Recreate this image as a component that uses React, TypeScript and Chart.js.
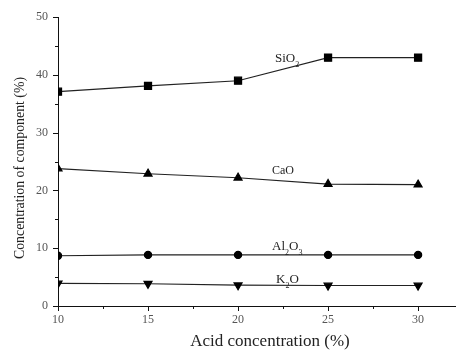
import React, { useEffect, useRef } from "react";
import { Chart, registerables } from "chart.js";

Chart.register(...registerables);

const acidConc = [10, 15, 20, 25, 30];
const sio2 = [37.1, 38.1, 39.0, 43.0, 43.0];
const cao = [23.8, 22.9, 22.2, 21.1, 21.0];
const al2o3 = [8.7, 8.85, 8.85, 8.85, 8.85];
const k2o = [3.9, 3.85, 3.6, 3.55, 3.55];
const xTicks = [10, 15, 20, 25, 30];
const yTicks = [0, 10, 20, 30, 40, 50];

const SERIF = "'Liberation Serif', 'DejaVu Serif', serif";

const annotations = [
  { base: "SiO", sub: "2", tail: "", x: 275, y: 59, size: 13 },
  { base: "CaO", sub: "", tail: "", x: 272, y: 171, size: 12 },
  { base: "Al", sub: "2", tail: "O", sub2: "3", x: 272, y: 247, size: 13 },
  { base: "K", sub: "2", tail: "O", x: 276, y: 280, size: 13 },
];

const customPlugin = {
  id: "custom",
  afterDraw(chart: any) {
    const ctx = chart.ctx;
    const xs = chart.scales.x;
    const ys = chart.scales.y;
    ctx.save();
    ctx.strokeStyle = "#111";
    ctx.lineWidth = 1;
    for (let v = 0; v <= 50; v += 5) {
      const py = Math.round(ys.getPixelForValue(v)) + 0.5;
      const len = v % 10 === 0 ? 5 : 3;
      ctx.beginPath();
      ctx.moveTo(xs.left, py);
      ctx.lineTo(xs.left - len, py);
      ctx.stroke();
    }
    for (let v = 10; v <= 30; v += 2.5) {
      const px = Math.round(xs.getPixelForValue(v)) + 0.5;
      const len = v % 5 === 0 ? 5 : 3;
      ctx.beginPath();
      ctx.moveTo(px, ys.bottom);
      ctx.lineTo(px, ys.bottom + len);
      ctx.stroke();
    }
    ctx.fillStyle = "#555";
    ctx.font = `12px ${SERIF}`;
    ctx.textAlign = "center";
    ctx.textBaseline = "middle";
    for (const v of xTicks) {
      ctx.fillText(String(v), xs.getPixelForValue(v), ys.bottom + 14);
    }
    ctx.fillStyle = "#222";
    ctx.font = `17px ${SERIF}`;
    ctx.fillText("Acid concentration (%)", 270, 342);
    ctx.save();
    ctx.translate(20, 168);
    ctx.rotate(-Math.PI / 2);
    ctx.font = `13.8px ${SERIF}`;
    ctx.fillText("Concentration of component (%)", 0, 0);
    ctx.restore();
    ctx.textAlign = "left";
    ctx.textBaseline = "middle";
    for (const a of annotations as any[]) {
      let x = a.x;
      ctx.font = `${a.size}px ${SERIF}`;
      ctx.fillText(a.base, x, a.y);
      x += ctx.measureText(a.base).width;
      if (a.sub) {
        ctx.font = `${Math.round(a.size * 0.6)}px ${SERIF}`;
        ctx.fillText(a.sub, x, a.y + a.size * 0.45);
        x += ctx.measureText(a.sub).width;
      }
      if (a.tail) {
        ctx.font = `${a.size}px ${SERIF}`;
        ctx.fillText(a.tail, x, a.y);
        x += ctx.measureText(a.tail).width;
      }
      if (a.sub2) {
        ctx.font = `${Math.round(a.size * 0.6)}px ${SERIF}`;
        ctx.fillText(a.sub2, x, a.y + a.size * 0.45);
      }
    }
    ctx.restore();
  },
};

export default function App() {
  const ref = useRef<HTMLCanvasElement>(null);
  useEffect(() => {
    const mk = (data: number[]) => data.map((v, i) => ({ x: acidConc[i], y: v }));
    const common = {
      borderColor: "#222",
      backgroundColor: "#000",
      pointBackgroundColor: "#000",
      pointBorderColor: "#000",
      borderWidth: 1.2,
      tension: 0,
    };
    const chart = new Chart(ref.current!, {
      type: "line",
      data: {
        datasets: [
          { ...common, label: "SiO2", data: mk(sio2), pointStyle: "rect", pointRadius: 5 },
          { ...common, label: "CaO", data: mk(cao), pointStyle: "triangle", pointRadius: 4.6 },
          { ...common, label: "Al2O3", data: mk(al2o3), pointStyle: "circle", pointRadius: 3.6 },
          { ...common, label: "K2O", data: mk(k2o), pointStyle: "triangle", pointRotation: 180, pointRadius: 4.6 },
        ] as any,
      },
      options: {
        animation: false,
        responsive: false,
        maintainAspectRatio: false,
        layout: { autoPadding: false, padding: { top: 6.8, right: 1, left: 0, bottom: 0 } },
        plugins: { legend: { display: false }, tooltip: { enabled: false } },
        scales: {
          x: {
            type: "linear",
            min: 10,
            max: 32.05,
            afterBuildTicks: (s: any) => {
              s.ticks = xTicks.map((v) => ({ value: v }));
            },
            afterFit: (s: any) => {
              s.height = 47;
            },
            grid: { display: false, drawTicks: false },
            border: { display: true, color: "#111", width: 1 },
            ticks: { display: false },
          },
          y: {
            type: "linear",
            min: 0,
            max: 50,
            afterBuildTicks: (s: any) => {
              s.ticks = yTicks.map((v) => ({ value: v }));
            },
            afterFit: (s: any) => {
              s.width = 58;
            },
            grid: { display: false, drawTicks: false },
            border: { display: true, color: "#111", width: 1 },
            ticks: {
              color: "#555",
              padding: 10,
              font: { family: SERIF, size: 12 },
            },
          },
        },
      } as any,
      plugins: [customPlugin],
    });
    return () => chart.destroy();
  }, []);
  return (
    <div style={{ position: "fixed", left: 0, top: 0, width: 456, height: 353, background: "#fff" }}>
      <canvas ref={ref} width={456} height={353} style={{ width: 456, height: 353 }} />
    </div>
  );
}
